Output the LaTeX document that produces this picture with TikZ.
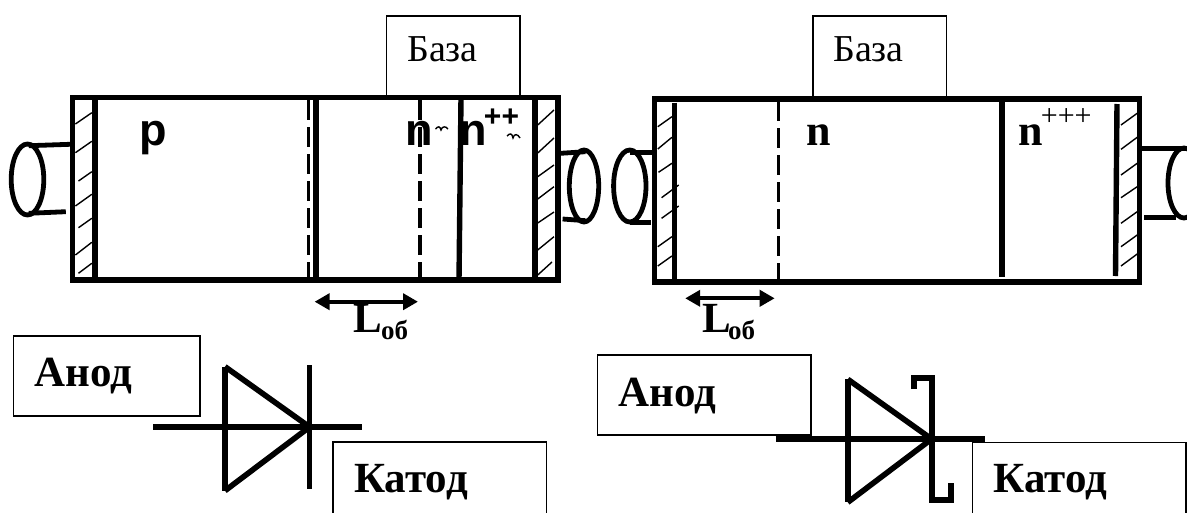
\documentclass[tikz,border=0pt]{standalone}
\usepackage{fontspec}
\setmainfont{Liberation Serif}
\setsansfont{Liberation Sans}
\usetikzlibrary{positioning, arrows.meta}
\newcommand{\fsz}[1]{\fontsize{#1}{#1}\selectfont}

\begin{document}
\begin{tikzpicture}[
      x=1pt, y=-1pt,
      box/.style={draw, line width=1.4pt, inner sep=0pt, outer sep=0pt},
      body/.style={line width=5.2pt},
      wall/.style={line width=5.4pt},
      junction/.style={line width=3.8pt, dash pattern=on 20pt off 7pt},
      hatch/.style={line width=1.4pt},
      lead/.style={line width=4.8pt},
      sym/.style={line width=5.6pt},
      span/.style={line width=3.8pt, {Triangle[length=15pt,width=16pt]}-{Triangle[length=15pt,width=16pt]}},
      boxtext/.style={inner sep=0pt, anchor=base west, font=\fsz{38}},
      bigtext/.style={inner sep=0pt, anchor=base west, font=\fsz{43}\bfseries},
      sanstext/.style={inner sep=0pt, anchor=base west, font=\fsz{45}\sffamily\bfseries},
      sertext/.style={inner sep=0pt, anchor=base west, font=\fsz{44}\bfseries}
    ]
    \clip (0,0) rectangle (1187,512);

    % Left structure: base contact
    \node[box, minimum width=133.5pt, minimum height=83pt, anchor=north west] (baseA) at (386.5,16) {};
    \node[boxtext] (baseAtext) at (407,61.7) {База};

    % Left structure: body and walls
    \draw[body] (72.7,97.7) rectangle (558,280);
    \draw[wall] (95,97.7) -- (95,280);
    \draw[wall] (316,97.7) -- (316,280);
    \draw[wall] (461,97.7) -- (459,280);
    \draw[wall] (535,97.7) -- (535,280);
    \draw[junction] (308.5,100) -- (308.5,280);

    % Left structure: hatching
    \draw[hatch] (75.4,124) -- (91.8,112.7) (75.4,152.7) -- (91.8,141.3) (78.5,181) -- (91.8,171.7)
      (75.4,206) -- (91.8,194.3) (78.5,227.7) -- (91.8,218.3) (75.4,255) -- (91.8,242.3) (78.5,273.3) -- (91.8,263.3);
    \draw[hatch] (537.7,125) -- (554,110) (537.7,153) -- (554,138) (537.7,176.7) -- (554,165)
      (537.7,199) -- (554,186.7) (537.7,223) -- (554,212) (537.7,250) -- (554,236.7) (537.7,275) -- (552,262);

    % Left structure: leads
    \draw[lead] (27.5,179.5) ellipse [x radius=16.3pt, y radius=35.5pt];
    \draw[lead] (28.7,145.7) -- (70,144.3);
    \draw[lead] (28.7,213.3) -- (65.8,211.7);
    \draw[lead] (584,186) ellipse [x radius=14.7pt, y radius=36pt];
    \draw[lead] (560.7,153.3) -- (585.5,151.7);
    \draw[lead] (562.6,219) -- (585.5,220.7);

    % Left structure: regions
    \node[sanstext] (pA) at (139.5,145.7) {p};
    \node[sanstext] (nA) at (405.5,145.7) {n};
    \node[sanstext] (nB) at (459,145.7) {n};
    \node[inner sep=0pt, font=\fsz{30}\sffamily\bfseries] (plusA) at (501.5,117.5) {++};
    \draw[junction] (420,100) -- (420,280);
    \draw[hatch] (435.5,129) .. controls (438,126) and (440,126) .. (441,130) .. controls (442,126) and (446,126) .. (448,129);
    \draw[hatch] (507,136) .. controls (510,133) and (512,133) .. (513,138) .. controls (514,133) and (518,134) .. (520,138);

    % Left structure: width arrow
    \coordinate (spanAl) at (314.6,301.7);
    \coordinate (spanAr) at (418,301.7);
    \draw[span] (spanAl) -- (spanAr);
    \node[inner sep=0pt, anchor=base west, font=\fsz{43}\bfseries] (lobA) at (353,332.7) {L};
    \node[inner sep=0pt, anchor=base west, font=\fsz{27}\bfseries] (lobAsub) at (381,339) {об};

    % Left diode
    \node[box, minimum width=186.6pt, minimum height=80pt, anchor=north west] (anodeA) at (13.4,336) {};
    \node[bigtext] (anodeAtext) at (34.4,386.7) {Анод};
    \node[box, minimum width=213.5pt, minimum height=90pt, anchor=north west] (cathA) at (333,442) {};
    \node[bigtext] (cathAtext) at (354,492.7) {Катод};
    \draw[sym] (153,427) -- (362.4,427);
    \draw[sym] (225,366.7) -- (225,490.7);
    \draw[sym] (225,366.7) -- (309.6,427) -- (225,490.7);
    \draw[sym] (309.6,365) -- (309.6,489);

    % Right structure: base contact
    \node[box, minimum width=133.6pt, minimum height=83pt, anchor=north west] (baseB) at (812.8,16) {};
    \node[boxtext] (baseBtext) at (833,61.7) {База};

    % Right structure: body and walls
    \draw[body] (654.7,99) rectangle (1139.5,282);
    \draw[wall] (674.5,102.7) -- (674.5,282);
    \draw[wall] (1002,99) -- (1002,277);
    \draw[wall] (1117,104) -- (1115.5,276);
    \draw[junction] (778.5,101) -- (778.5,282);

    % Right structure: hatching
    \draw[hatch] (657.8,126.7) -- (671.9,116.7) (657.8,149) -- (671.9,137.3) (658.5,172.3) -- (671.9,163.3)
      (661.6,197.7) -- (678.7,185) (661.6,218.3) -- (678.7,206) (657.8,246.7) -- (671.9,236.7) (657.8,266) -- (671.9,256);
    \draw[hatch] (1121,125) -- (1137.2,113.3) (1121,149.3) -- (1137.2,137.3) (1121,175) -- (1137.2,163.3)
      (1121,197.7) -- (1137.2,186.7) (1121,223.3) -- (1137.2,211.7) (1121,246.7) -- (1137.2,235) (1121,266) -- (1137.2,254);

    % Right structure: leads
    \draw[lead] (629.8,186) ellipse [x radius=16.2pt, y radius=36pt];
    \draw[lead] (630,152.3) -- (652.8,152.3);
    \draw[lead] (630,222.3) -- (651,222.3);
    \draw[lead] (1184,183) ellipse [x radius=16pt, y radius=35pt];
    \draw[lead] (1142,148.3) -- (1187,148.3);
    \draw[sym] (1144,217.3) -- (1176.4,217.3);

    % Right structure: regions
    \node[sertext] (nC) at (806,145.7) {n};
    \node[sertext] (nD) at (1018.5,145.7) {n};
    \node[inner sep=0pt, font=\fsz{30}] (plusB) at (1066.2,117.5) {+++};

    % Right structure: width arrow
    \coordinate (spanBl) at (685.2,298.3);
    \coordinate (spanBr) at (774.7,298.3);
    \draw[span] (spanBl) -- (spanBr);
    \node[inner sep=0pt, anchor=base west, font=\fsz{43}\bfseries] (lobB) at (702,332.7) {L};
    \node[inner sep=0pt, anchor=base west, font=\fsz{27}\bfseries] (lobBsub) at (728,339) {об};

    % Right diode
    \node[box, minimum width=213.3pt, minimum height=80pt, anchor=north west] (anodeB) at (597.6,355) {};
    \node[bigtext] (anodeBtext) at (618.6,406) {Анод};
    \node[box, minimum width=213.3pt, minimum height=90pt, anchor=north west] (cathB) at (972.7,442.7) {};
    \node[bigtext] (cathBtext) at (993.7,492.7) {Катод};
    \draw[sym] (775.5,439) -- (985,439);
    \draw[sym] (847.8,379.3) -- (847.8,502.3);
    \draw[sym] (847.8,379.3) -- (931.6,439) -- (847.8,502.3);
    \draw[sym] (913.7,389) -- (913.7,377.7) -- (932,377.7) -- (932,500) -- (951,500) -- (951,483);

  \end{tikzpicture}
\end{document}
